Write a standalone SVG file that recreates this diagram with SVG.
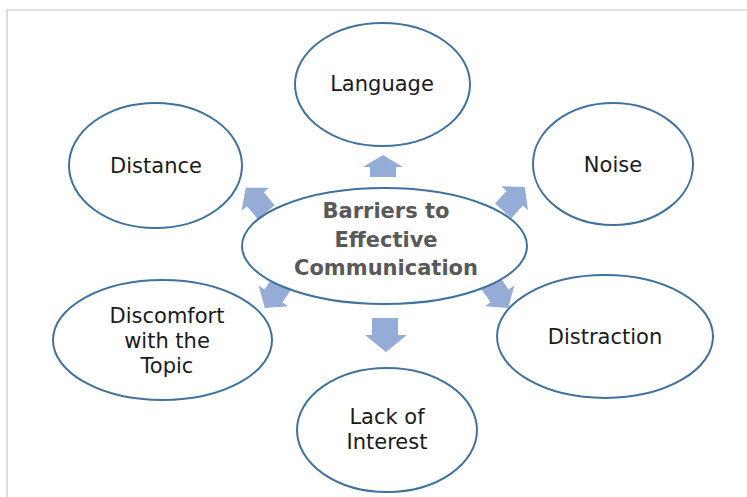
<svg xmlns="http://www.w3.org/2000/svg" width="747" height="497" viewBox="0 0 747 497">
<style>
.node{fill:#ffffff;stroke:#41729b;stroke-width:2}
.lbl{font-family:"DejaVu Sans","Liberation Sans",sans-serif;font-size:21px;fill:#1a1a1a;text-anchor:middle}
.ctr{font-family:"DejaVu Sans","Liberation Sans",sans-serif;font-size:21px;font-weight:bold;fill:#595959;text-anchor:middle}
.arr{fill:#94acd6}
</style>
<defs>
<path id="arrD" d="M0,-16 L18,-1 L11,-1 L11,16 L-11,16 L-11,-1 L-18,-1 Z"/>
</defs>
<rect x="0" y="0" width="747" height="497" fill="#ffffff"/>
<path d="M7,497 L7,10 L747,10" fill="none" stroke="#d4d4d4" stroke-width="1.5"/>
<g id="connectors" class="arr">
<path d="M383,155 L403,167 L396,167 L396,177 L370,177 L370,167 L363,167 Z"/>
<path d="M372,318 L398,318 L398,335 L407,335 L386,352 L365,335 L372,335 Z"/>
<use href="#arrD" transform="translate(256,200) rotate(-40)"/>
<use href="#arrD" transform="translate(514,199) rotate(42)"/>
<use href="#arrD" transform="translate(274,295) rotate(-145)"/>
<use href="#arrD" transform="translate(499,295) rotate(145)"/>
</g>
<g id="center">
<ellipse class="node" cx="384.5" cy="246" rx="142.5" ry="58"/>
<text class="ctr" x="386" y="218">Barriers to</text>
<text class="ctr" x="386" y="247">Effective</text>
<text class="ctr" x="386" y="275">Communication</text>
</g>
<g id="language">
<ellipse class="node" cx="382.5" cy="84.5" rx="87.5" ry="61.5"/>
<text class="lbl" x="382" y="91">Language</text>
</g>
<g id="noise">
<ellipse class="node" cx="613" cy="164" rx="80" ry="61"/>
<text class="lbl" x="613" y="172">Noise</text>
</g>
<g id="distance">
<ellipse class="node" cx="155.5" cy="165.5" rx="86.5" ry="62.5"/>
<text class="lbl" x="156" y="173">Distance</text>
</g>
<g id="discomfort">
<ellipse class="node" cx="162.5" cy="340" rx="109.5" ry="60"/>
<text class="lbl" x="167" y="323">Discomfort</text>
<text class="lbl" x="167" y="348">with the</text>
<text class="lbl" x="167" y="373">Topic</text>
</g>
<g id="distraction">
<ellipse class="node" cx="605" cy="336.5" rx="108" ry="61.5"/>
<text class="lbl" x="605" y="344">Distraction</text>
</g>
<g id="lack">
<ellipse class="node" cx="387" cy="430" rx="90" ry="62"/>
<text class="lbl" x="387" y="424">Lack of</text>
<text class="lbl" x="387" y="449">Interest</text>
</g>
</svg>
